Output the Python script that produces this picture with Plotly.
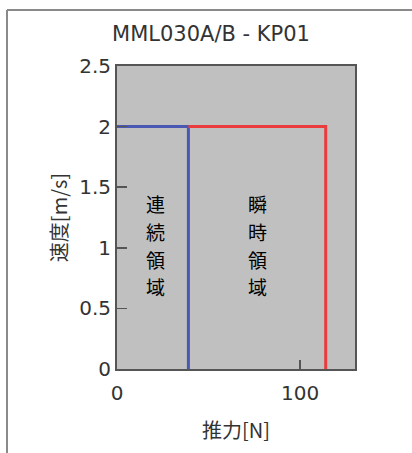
import plotly.graph_objects as go

# Data
continuous_x = [0, 39, 39]
continuous_y = [2, 2, 0]
peak_x = [39, 114, 114]
peak_y = [2, 2, 0]
x_ticks = [0, 100]
y_ticks = [0, 0.5, 1, 1.5, 2, 2.5]
y_tick_labels = ["0", "0.5", "1", "1.5", "2", "2.5"]
cont_chars = ["連", "続", "領", "域"]
peak_chars = ["瞬", "時", "領", "域"]
char_y = [1.365, 1.135, 0.905, 0.68]
cont_label_x = 21
peak_label_x = 77

W, H = 412, 453
ML, MR, MT, MB = 117, 57, 66, 84

fig = go.Figure()
fig.add_trace(go.Scatter(x=continuous_x, y=continuous_y, mode="lines",
                         line=dict(color="#4a58b4", width=3), hoverinfo="skip"))
fig.add_trace(go.Scatter(x=peak_x, y=peak_y, mode="lines",
                         line=dict(color="#ea3c3c", width=3), hoverinfo="skip"))

for chars, xx in ((cont_chars, cont_label_x), (peak_chars, peak_label_x)):
    for ch, yy in zip(chars, char_y):
        fig.add_annotation(x=xx, y=yy, text=ch, showarrow=False,
                           font=dict(family="Noto Sans CJK JP", size=19, color="#000"))

# outer frame (top and left edges visible)
pw = W - ML - MR
ph = H - MT - MB
def px_to_paper_x(px):
    return (px - ML) / pw
def px_to_paper_y(py):
    return (H - MB - py) / ph
fig.add_shape(type="line", xref="paper", yref="paper",
              x0=px_to_paper_x(7), x1=px_to_paper_x(415),
              y0=px_to_paper_y(10), y1=px_to_paper_y(10),
              line=dict(color="#8a8a8a", width=2))
fig.add_shape(type="line", xref="paper", yref="paper",
              x0=px_to_paper_x(7), x1=px_to_paper_x(7),
              y0=px_to_paper_y(10), y1=px_to_paper_y(456),
              line=dict(color="#8a8a8a", width=2))

fig.update_layout(
    width=W, height=H,
    margin=dict(l=ML, r=MR, t=MT, b=MB),
    paper_bgcolor="white",
    plot_bgcolor="#c0c0c0",
    showlegend=False,
    title=dict(text="MML030A/B - KP01", x=px_to_paper_x(211), xref="paper",
               xanchor="center", y=1 - 34 / H, yanchor="middle",
               font=dict(family="DejaVu Sans", size=21, color="#333")),
    font=dict(family="DejaVu Sans", color="#333"),
)
fig.update_xaxes(range=[0, 130], tickvals=x_ticks, ticktext=[str(v) for v in x_ticks],
                 ticks="inside", ticklen=9, tickwidth=1.5, tickcolor="#555",
                 showline=True, linecolor="#555", linewidth=2, mirror=True,
                 showgrid=False, zeroline=False,
                 tickfont=dict(family="DejaVu Sans", size=20, color="#333"),
                 ticklabelstandoff=5,
                 title=dict(text="推力[N]", standoff=20,
                            font=dict(family="Noto Sans CJK JP", size=20, color="#333")))
fig.update_yaxes(range=[0, 2.5], tickvals=y_ticks, ticktext=y_tick_labels,
                 ticks="inside", ticklen=10, tickwidth=1.5, tickcolor="#555",
                 showline=True, linecolor="#555", linewidth=2, mirror=True,
                 showgrid=False, zeroline=False,
                 tickfont=dict(family="DejaVu Sans", size=20, color="#333"),
                 ticklabelstandoff=0,
                 title=dict(text="速度[m/s]", standoff=6,
                            font=dict(family="Noto Sans CJK JP", size=20, color="#333")))

fig.write_html("out.html", config={"displayModeBar": False, "staticPlot": True},
               post_script="document.body.style.margin='0';")
